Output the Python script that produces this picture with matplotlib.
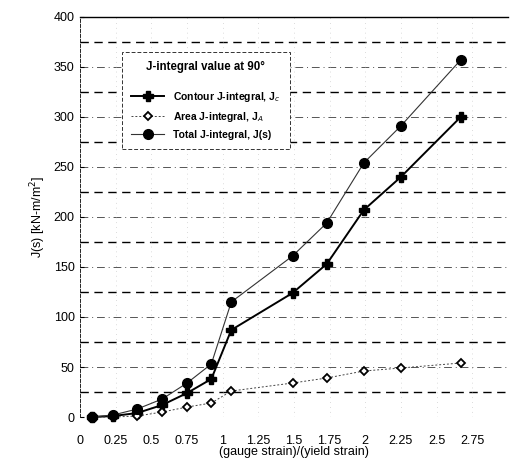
import numpy as np
import matplotlib
matplotlib.use('Agg')
import matplotlib.pyplot as plt

plt.rcParams['font.family'] = ['Liberation Sans', 'DejaVu Sans']

# strain ratio (gauge strain / yield strain)
strain = [0.08, 0.23, 0.40, 0.575, 0.75, 0.92, 1.06, 1.49, 1.73, 1.99, 2.25, 2.67]
j_contour = [0, 1, 4, 12, 24, 38, 87, 124, 153, 207, 240, 300]
j_area = [0, 0, 1, 5, 10, 14, 26, 34, 39, 46, 49, 54]
j_total = [0, 2, 8, 18, 34, 53, 115, 161, 194, 254, 291, 357]

xticks = [0, 0.25, 0.5, 0.75, 1, 1.25, 1.5, 1.75, 2, 2.25, 2.5, 2.75]
xtick_labels = ['0', '0.25', '0.5', '0.75', '1', '1.25', '1.5', '1.75', '2', '2.25', '2.5', '2.75']
yticks = np.arange(0, 401, 50)

fig = plt.figure(figsize=(5.14, 4.67), dpi=100)
ax = fig.add_axes([0.156, 0.107, 0.832, 0.857])

# gridlines: dash-dot at every 50, heavier dashes at the 25s in between
for y in yticks[1:]:
    ax.axhline(y, color='#555555', lw=0.7, ls=(0, (8, 4, 1, 4)), zorder=0)
for y in np.arange(25, 400, 50):
    ax.axhline(y, color='black', lw=1.0, ls=(0, (6, 4)), zorder=0)
ax.axhline(0, color='#777777', lw=0.7, ls=':', zorder=0)
for x in xticks[1:]:
    ax.axvline(x, color='#bbbbbb', lw=0.5, ls=(0, (1, 6)), zorder=0)

ax.plot(strain, j_contour, color='black', lw=1.4, marker='P', ms=7,
        mec='black', mfc='black', label='Contour J-integral, J$_c$', clip_on=False)
ax.plot(strain, j_area, color='#444444', lw=0.7, ls=(0, (2, 2)), marker='D', ms=4.5,
        mec='black', mfc='white', mew=1.3, label='Area J-integral, J$_A$', clip_on=False)
ax.plot(strain, j_total, color='#333333', lw=0.8, marker='o', ms=7,
        mec='black', mfc='black', label='Total J-integral, J(s)', clip_on=False)

ax.set_xlim(0, 3)
ax.set_ylim(0, 400)
ax.set_xticks(xticks)
ax.set_xticklabels(xtick_labels)
ax.set_yticks(yticks)
ax.tick_params(axis='x', length=0, pad=13, labelsize=9)
ax.tick_params(axis='y', length=3, pad=4, labelsize=9, direction='in')

for s in ['bottom', 'right']:
    ax.spines[s].set_visible(False)
ax.spines['left'].set_linestyle((0, (4, 2)))
ax.spines['left'].set_linewidth(0.6)
ax.spines['top'].set_linewidth(1.0)

ax.set_xlabel('(gauge strain)/(yield strain)', fontsize=9, labelpad=-1)
ax.set_ylabel('J(s) [kN-m/m$^2$]', fontsize=9, labelpad=4)

leg = ax.legend(loc='upper left', bbox_to_anchor=(0.085, 0.925),
                prop={'size': 7.5, 'weight': 'bold'},
                title='J-integral value at 90°', title_fontproperties={'size': 8.3, 'weight': 'bold'},
                frameon=True, fancybox=False, edgecolor='#333333', handlelength=3.2,
                borderpad=0.9, labelspacing=0.55, framealpha=1)
leg.get_frame().set_linewidth(0.7)
leg.get_frame().set_linestyle((0, (4, 2)))
leg._legend_box.sep = 12

fig.savefig('out.png', dpi=100, facecolor='white')
